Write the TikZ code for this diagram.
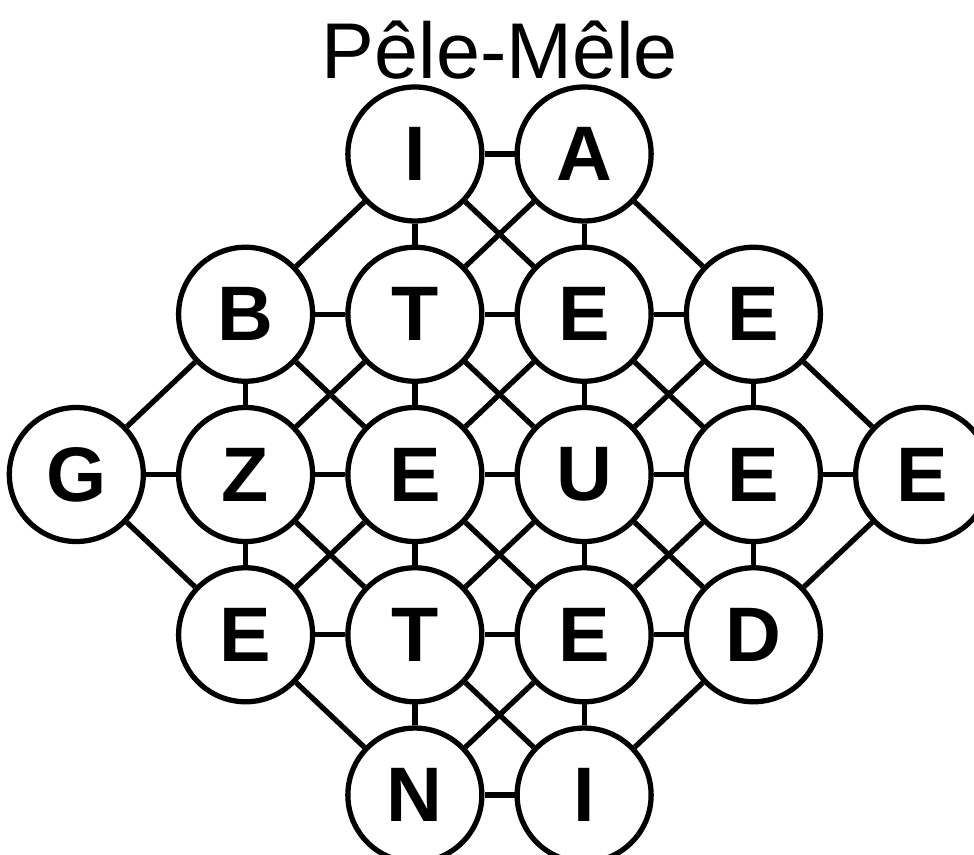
\documentclass[tikz,border=0pt]{standalone}
\usepackage{fontspec}
\setmainfont{Liberation Sans}
\usetikzlibrary{matrix}
\tikzset{
  letter/.style={circle, draw=black, line width=3pt, minimum size=2.68cm, inner sep=0pt, fill=white, font=\fontsize{44}{44}\selectfont\bfseries},
  link/.style={draw=black, line width=3pt},
  titletext/.style={font=\fontsize{45}{45}\selectfont}
}

\begin{document}
\begin{tikzpicture}
  \useasboundingbox (0,0) rectangle (19.48,-17.08);
  \node[titletext] (title) at (10.0,-1.0) {Pêle-Mêle};
  \matrix[row sep=0.42cm, column sep=0.6cm] (grid) at (9.99,-9.49) {
    & & \node[letter] (r0c2) {I}; & \node[letter] (r0c3) {A}; & & \\
    & \node[letter] (r1c1) {B}; & \node[letter] (r1c2) {T}; & \node[letter] (r1c3) {E}; & \node[letter] (r1c4) {E}; & \\
    \node[letter] (r2c0) {G}; & \node[letter] (r2c1) {Z}; & \node[letter] (r2c2) {E}; & \node[letter] (r2c3) {U}; & \node[letter] (r2c4) {E}; & \node[letter] (r2c5) {E}; \\
    & \node[letter] (r3c1) {E}; & \node[letter] (r3c2) {T}; & \node[letter] (r3c3) {E}; & \node[letter] (r3c4) {D}; & \\
    & & \node[letter] (r4c2) {N}; & \node[letter] (r4c3) {I}; & & \\
  };
  % rows
  \draw[link] (r0c2) -- (r0c3);
  \draw[link] (r1c1) -- (r1c2) (r1c2) -- (r1c3) (r1c3) -- (r1c4);
  \draw[link] (r2c0) -- (r2c1) (r2c1) -- (r2c2) (r2c2) -- (r2c3) (r2c3) -- (r2c4) (r2c4) -- (r2c5);
  \draw[link] (r3c1) -- (r3c2) (r3c2) -- (r3c3) (r3c3) -- (r3c4);
  \draw[link] (r4c2) -- (r4c3);
  % columns
  \draw[link] (r0c2) -- (r1c2) (r0c3) -- (r1c3);
  \draw[link] (r1c1) -- (r2c1) (r1c2) -- (r2c2) (r1c3) -- (r2c3) (r1c4) -- (r2c4);
  \draw[link] (r2c1) -- (r3c1) (r2c2) -- (r3c2) (r2c3) -- (r3c3) (r2c4) -- (r3c4);
  \draw[link] (r3c2) -- (r4c2) (r3c3) -- (r4c3);
  % diagonals
  \draw[link] (r0c2) -- (r1c1) (r0c2) -- (r1c3) (r0c3) -- (r1c2) (r0c3) -- (r1c4);
  \draw[link] (r1c1) -- (r2c0) (r1c1) -- (r2c2) (r1c2) -- (r2c1) (r1c2) -- (r2c3)
              (r1c3) -- (r2c2) (r1c3) -- (r2c4) (r1c4) -- (r2c3) (r1c4) -- (r2c5);
  \draw[link] (r3c1) -- (r2c0) (r3c1) -- (r2c2) (r3c2) -- (r2c1) (r3c2) -- (r2c3)
              (r3c3) -- (r2c2) (r3c3) -- (r2c4) (r3c4) -- (r2c3) (r3c4) -- (r2c5);
  \draw[link] (r4c2) -- (r3c1) (r4c2) -- (r3c3) (r4c3) -- (r3c2) (r4c3) -- (r3c4);
\end{tikzpicture}
\end{document}
